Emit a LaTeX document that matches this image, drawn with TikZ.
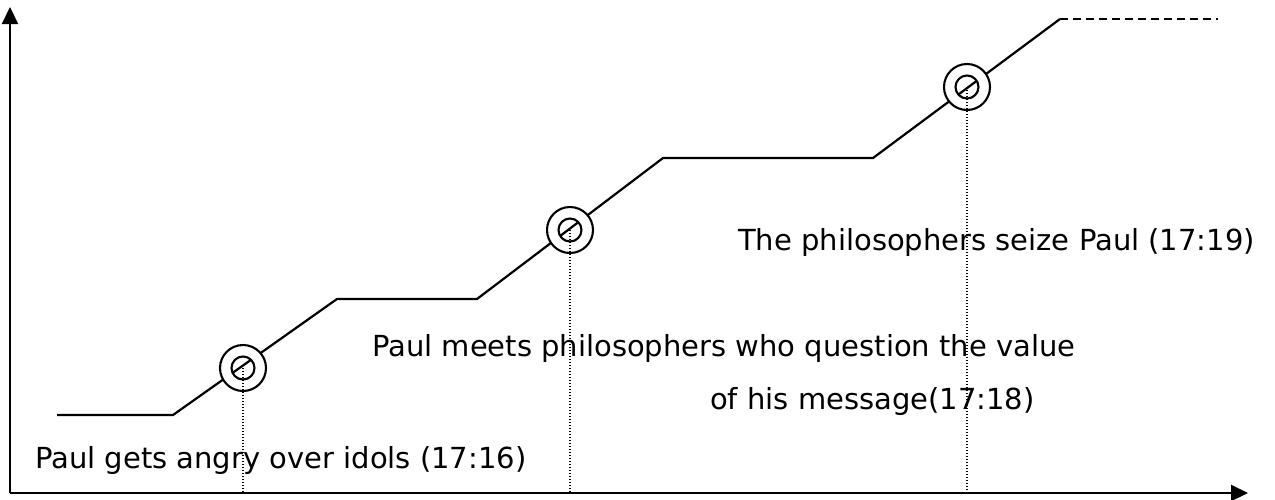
\documentclass[tikz,border=0pt]{standalone}
\usepackage{fontspec}
\setmainfont{DejaVu Sans}
\usetikzlibrary{arrows.meta}
\begin{document}
\begin{tikzpicture}[x=1pt,y=-1pt,
  lbl/.style={anchor=base west, inner sep=0pt, font=\fontsize{29}{34}\selectfont},
  curve/.style={line width=2.2pt, line join=miter},
  axisline/.style={line width=2.2pt, -{Triangle[length=17pt,width=16pt]}},
  guide/.style={line width=1.3pt, dash pattern=on 1.3pt off 1.7pt},
  ring/.style={line width=2.1pt, fill=white, even odd rule}]
\useasboundingbox (0,0) rectangle (1275,499);
% axes
\coordinate (o) at (10,493);
\coordinate (ytop) at (10,7);
\coordinate (xend) at (1248,493);
\draw[axisline] (o) -- (ytop);
\draw[axisline] (o) -- (xend);
% stepped curve
\coordinate (p0) at (57,415);
\coordinate (p1) at (173,415);
\coordinate (p2) at (337,299);
\coordinate (p3) at (477,299);
\coordinate (p4) at (663,158);
\coordinate (p5) at (873,158);
\coordinate (p6) at (1060,19);
\coordinate (p7) at (1218,19);
\draw[curve] (p0) -- (p1) -- (p2) -- (p3) -- (p4) -- (p5) -- (p6);
\draw[line width=2.2pt, dash pattern=on 8pt off 5pt] (p6) -- (p7);
% markers
\coordinate (m1) at (243,368);
\coordinate (m2) at (570,230);
\coordinate (m3) at (967,87);
\foreach \m in {m1,m2,m3}{
  \draw[ring] (\m) circle[radius=23] (\m) circle[radius=11.5];
  \draw[guide] (\m) -- (\m |- o);
}
% labels
\node[lbl] (t1) at (35,468) {Paul gets angry over idols (17:16)};
\node[lbl] (t2) at (372,356) {Paul meets philosophers who question the value};
\node[lbl] (t3) at (710,409) {of his message(17:18)};
\node[lbl] (t4) at (738,250) {The philosophers seize Paul (17:19)};
\end{tikzpicture}
\end{document}
